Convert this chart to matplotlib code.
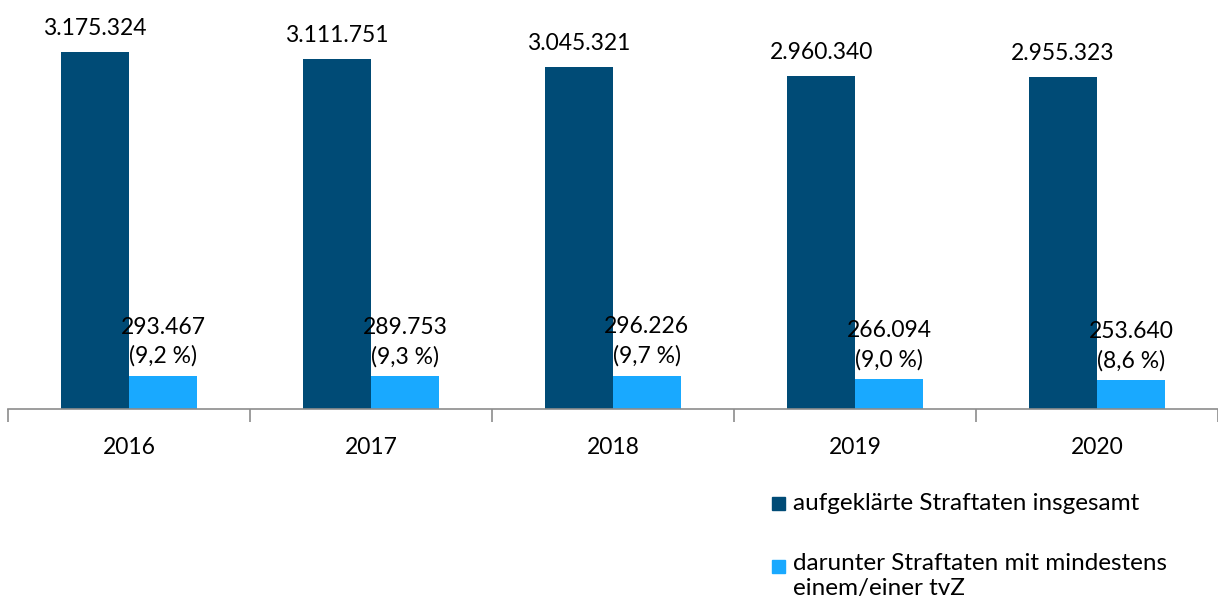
import matplotlib
matplotlib.use("Agg")
import matplotlib.pyplot as plt
from matplotlib.patches import Rectangle
import numpy as np

# data
years = ["2016", "2017", "2018", "2019", "2020"]
total = [3175324, 3111751, 3045321, 2960340, 2955323]
tvz = [293467, 289753, 296226, 266094, 253640]
share = ["9,2", "9,3", "9,7", "9,0", "8,6"]

dark = "#004b76"
light = "#19a9ff"

plt.rcParams['font.family'] = ['Lato', 'DejaVu Sans']

def fmt(n):
    return f"{n:,}".replace(",", ".")

fig = plt.figure(figsize=(12.18, 6.08), dpi=100)
ax = fig.add_axes([8 / 1218, 1 - 409 / 608, 1210 / 1218, 409 / 608])

x = np.arange(len(years))
w = 0.28
ax.bar(x - w / 2, total, width=w, color=dark)
ax.bar(x + w / 2, tvz, width=w, color=light)

for xi, v in zip(x, total):
    ax.text(xi - w / 2, v + 115000, fmt(v), ha="center", va="bottom", fontsize=16.5)
for xi, v, s in zip(x, tvz, share):
    ax.text(xi + w / 2, v + 80000, f"{fmt(v)}\n({s} %)", ha="center", va="bottom",
            fontsize=16.5, linespacing=1.45)

ax.set_xlim(-0.5, len(years) - 0.5)
ax.set_ylim(0, 3637800)
ax.set_yticks([])
for s in ["top", "right", "left"]:
    ax.spines[s].set_visible(False)
ax.spines["bottom"].set_color("#8c8c8c")
ax.spines["bottom"].set_linewidth(1.2)

ax.set_xticks(x)
ax.set_xticklabels(years, fontsize=16.5)
ax.tick_params(axis="x", which="major", length=0, pad=20)
ax.set_xticks(np.arange(-0.5, len(years)), minor=True)
ax.tick_params(axis="x", which="minor", length=9, color="#8c8c8c", width=1.2)

# legend drawn by hand to keep the wrapped second entry
fig.patches.append(Rectangle((772 / 1218, 1 - 510 / 608), 13 / 1218, 13 / 608,
                             transform=fig.transFigure, color=dark))
fig.text(793 / 1218, 1 - 503 / 608, "aufgeklärte Straftaten insgesamt",
         fontsize=17.5, va="center")
fig.patches.append(Rectangle((772 / 1218, 1 - 573 / 608), 13 / 1218, 13 / 608,
                             transform=fig.transFigure, color=light))
fig.text(793 / 1218, 1 - 553 / 608, "darunter Straftaten mit mindestens\neinem/einer tvZ",
         fontsize=17.5, va="top", linespacing=1.25)

fig.savefig("out.png", dpi=100)
